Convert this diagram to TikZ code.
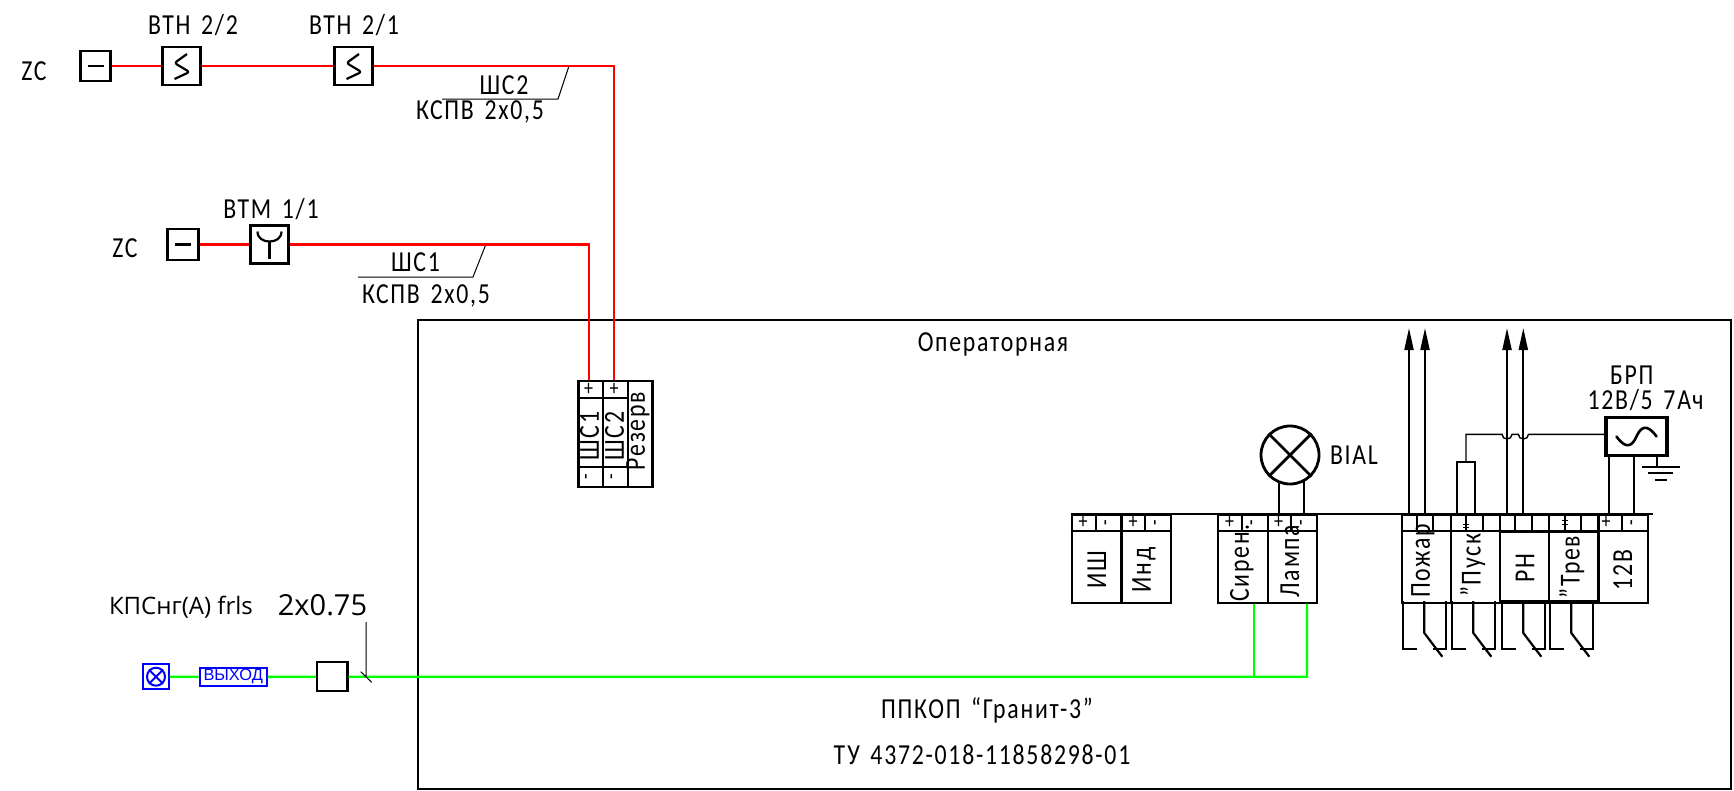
\documentclass[tikz,border=0pt]{standalone}
\usepackage{fontspec}
\setmainfont[LetterSpace=6,FakeStretch=0.82,WordSpace=1.5]{Carlito}
\newfontfamily\osans{Open Sans}
\newfontfamily\lsans{Liberation Sans}
\usetikzlibrary{arrows.meta,calc}
\definecolor{wgreen}{RGB}{0,255,0}
\definecolor{wblue}{RGB}{0,0,255}
\tikzset{
  txt/.style={inner sep=0pt,font=\fontsize{#1}{#1}\selectfont},
  txt/.default=29,
  box/.style={draw,line width=2.4pt,inner sep=0pt,minimum width=#1,minimum height=#1},
  cell/.style={draw,line width=2.2pt,inner sep=0pt,anchor=north west},
  thinl/.style={line width=1pt},
  wire/.style={line width=2.2pt},
  redw/.style={draw=red,line width=2.4pt},
  greenw/.style={draw=wgreen,line width=2.4pt},
  bluel/.style={draw=wblue,line width=2pt},
  arr/.style={line width=2pt,-{Triangle[length=22pt,width=9pt]}},
}
\newcommand{\contact}[1]{%
  \begin{scope}[shift={(#1,0)}]
    \draw[wire] (1403.3,601)--(1403.3,649)--(1416.7,649);
    \draw[wire] (1424.3,601)--(1424.3,633)--(1442.3,656.7);
    \draw[wire] (1446,601)--(1446,649)--(1433.3,649);
  \end{scope}}
\begin{document}
\begin{tikzpicture}[x=1pt,y=-1pt]
\useasboundingbox (0,0) rectangle (1734,790);
% room
\draw[wire] (418,320) rectangle (1731,789);
\node[txt] (room) at (993,344) {Операторная};
\node[txt] (ppk) at (987,710) {ППКОП “Гранит-3”};
\node[txt] (tu) at (982,755) {ТУ 4372-018-11858298-01};
% top loop
\node[txt] (zc1t) at (34,71) {ZC};
\node[box=30pt] (zc1) at (95.5,66) {};
\draw[wire] ($(zc1)+(-8,0)$)--($(zc1)+(8,0)$);
\node[box=38pt] (s2) at (181.5,66) {};
\node[box=38pt] (s1) at (353.5,66) {};
\foreach \n in {s1,s2}{\draw[wire,line join=round,rounded corners=2.5pt] ($(\n)+(5.5,-12)$)--($(\n)+(-7,-3)$)--($(\n)+(8,6)$)--($(\n)+(-7,13)$);}
\node[txt] (s2t) at (193,25) {ВТН 2/2};
\node[txt] (s1t) at (354,25) {ВТН 2/1};
\node[txt] (w2a) at (504,85) {ШС2};
\node[txt] (w2b) at (480,112) {КСПВ 2х0,5};
\coordinate (l2a) at (569,66); \coordinate (l2b) at (558,99); \coordinate (l2c) at (442,99);
\draw[thinl] (l2a)--(l2b)--(l2c);
% second loop
\node[txt] (zc2t) at (125,248) {ZC};
\node[box=31pt] (zc2) at (183,244.5) {};
\draw[wire] ($(zc2)+(-8,0)$)--($(zc2)+(8,0)$);
\node[box=38pt] (y1) at (269.5,244.5) {};
\draw[wire] ($(y1)+(-12,-13)$) .. controls ($(y1)+(-12,-6)$) and ($(y1)+(-6,-3)$) .. ($(y1)+(0,-3)$) .. controls ($(y1)+(6,-3)$) and ($(y1)+(12,-6)$) .. ($(y1)+(12,-13)$);
\draw[wire] ($(y1)+(0,-3)$)--($(y1)+(0,14)$);
\node[txt] (y1t) at (271,209) {ВТМ 1/1};
\node[txt] (w1a) at (415.5,262) {ШС1};
\node[txt] (w1b) at (426,296) {КСПВ 2х0,5};
\coordinate (l1a) at (486,244); \coordinate (l1b) at (473,277); \coordinate (l1c) at (358,277);
\draw[thinl] (l1a)--(l1b)--(l1c);
% terminal block ШС
\node[cell,minimum width=24.7pt,minimum height=106pt] (b1) at (577.3,380) {};
\node[cell,minimum width=24.7pt,minimum height=106pt] (b2) at (602,380) {};
\node[cell,minimum width=24.7pt,minimum height=106pt] (b3) at (626.7,380) {};
\draw[wire] (577.3,398)--(626.7,398) (577.3,467)--(626.7,467);
\node[txt=22] (p1) at (588.5,389) {+};
\node[txt=22] (p2) at (614,389) {+};
\node[txt=22,rotate=90] (m1) at (588.5,477) {-};
\node[txt=22,rotate=90] (m2) at (614,477) {-};
\node[txt,rotate=90] (t1) at (589.5,436) {ШС1};
\node[txt,rotate=90] (t2) at (614.5,436) {ШС2};
\node[txt,rotate=90] (t3) at (638,431) {Резерв};
% red wires
\coordinate (c2) at (614,66); \coordinate (c1) at (588.7,244.5);
\draw[redw] (zc1.east)--(s2.west) (s2.east)--(s1.west) (s1.east)--(c2)--(c2 |- b2.north);
\draw[redw] (zc2.east)--(y1.west) (y1.east)--(c1)--(c1 |- b1.north);
% bus
\coordinate (busl) at (1070.7,514); \coordinate (busr) at (1653,514);
\draw[wire] (busl)--(busr);
\foreach \n/\x/\w in {ish/1070.7/49.6,ind/1120.3/49.4,sir/1217/49.7,lam/1266.7/49.3,poz/1400.7/49.3,pus/1450/49,rn/1499/49,tre/1548/49.3,vv/1597.3/49.4}{
  \node[cell,minimum width=\w pt,minimum height=87.5pt] (\n) at (\x,514) {};
  \draw[wire] (\x,531)--++(\w,0);
}
\foreach \x in {1095.7,1145,1241.7,1291,1416.7,1433.3,1466,1482.7,1515.3,1531.7,1565,1581.3,1622}{\draw[wire] (\x,514)--(\x,531);}
\draw[line width=3.2pt] (1499,531.5)--(1597.3,531.5) (1499,601.5)--(1597.3,601.5);
\foreach \n/\x/\s in {q1/1083/+,q3/1133/+,q5/1229.5/+,q7/1278.5/+,q9/1606/+}{\node[txt=22] (\n) at (\x,522.5) {\s};}
\foreach \n/\x/\s in {q2/1108/-,q4/1157.5/-,q6/1254/-,q8/1303.5/-,q10/1634/-}{\node[txt=22,rotate=90] (\n) at (\x,522.5) {\s};}
\draw[thinl] (1466,521)--(1466,530) (1463,524)--(1469,524) (1463,527)--(1469,527);
\draw[thinl] (1565,517)--(1565,528) (1562,520)--(1568,520) (1562,524)--(1568,524);
\node[txt,rotate=90] (ti1) at (1096.7,570) {ИШ};
\node[txt,rotate=90] (ti2) at (1144,570) {Инд};
\node[txt,rotate=90] (ti3) at (1241.7,563) {Сирен.};
\node[txt,rotate=90] (ti4) at (1290,561) {Лампа};
\node[txt,rotate=90] (ti5) at (1423,561) {Пожар};
\node[txt,rotate=90] (ti6) at (1472.7,565) {"Пуск};
\node[txt,rotate=90] (ti7) at (1525,568) {РН};
\node[txt,rotate=90] (ti8) at (1571.7,567) {"Трев};
\node[txt,rotate=90] (ti9) at (1622.7,570) {12В};
% lamp
\node[circle,draw,line width=2.8pt,minimum size=58pt,inner sep=0pt] (lamp) at (1290,455) {};
\draw[line width=2.8pt] (lamp.north east)--(lamp.south west) (lamp.north west)--(lamp.south east);
\node[txt] (biat) at (1354,455) {BIAL};
\coordinate (la) at (1279,514); \coordinate (lb) at (1303.7,514);
\draw[wire] ($(la |- lamp.center)+(0,26.5)$)--(la) ($(lb |- lamp.center)+(0,25.5)$)--(lb);
% arrows
\coordinate (a1) at (1409,328); \coordinate (a2) at (1425,328); \coordinate (a3) at (1507,328); \coordinate (a4) at (1523.3,328);
\foreach \c in {a1,a2,a3,a4}{\draw[arr] (\c |- busl)--(\c);}
% PSU
\node[box=38pt,minimum width=61pt,line width=3.6pt] (brp) at (1636.5,436.5) {};
\draw[line width=2.6pt,line cap=round] ($(brp)+(-20,0)$) .. controls ($(brp)+(-10,14)$) and ($(brp)+(-4,9)$) .. (brp.center) .. controls ($(brp)+(4,-9)$) and ($(brp)+(10,-14)$) .. ($(brp)+(20,0)$);
\node[txt] (brpa) at (1631.7,375) {БРП};
\node[txt] (brpb) at (1645.5,400) {12В/5 7Ач};
\coordinate (pa) at (1609,514); \coordinate (pb) at (1633.7,514);
\draw[wire] (pa |- brp.south)--(pa) (pb |- brp.south)--(pb);
\coordinate (gr) at (1657,466.7);
\draw[wire] (gr |- brp.south)--(gr);
\draw[wire] (1641.7,466.7)--(1680,466.7) (1648,472.7)--(1673,472.7) (1655,480)--(1667,480);
% resistor-like box
\node[draw,line width=1.8pt,minimum width=18pt,minimum height=52.3pt,inner sep=0pt] (pk) at (1466,487.8) {};
\coordinate (hop) at (1466,434.3);
\draw[line width=1.4pt] (pk.north)--(hop)--(1502,434.3) .. controls (1502,440.5) and (1512,440.5) .. (1512,434.3) -- (1518.3,434.3) .. controls (1518.3,440.5) and (1528.5,440.5) .. (1528.5,434.3) -- (brp.west |- hop);
% contacts
\contact{0}\contact{49}\contact{99}\contact{147}
% green line
\node[draw=wblue,line width=2pt,minimum size=25.5pt,inner sep=0pt] (bb) at (156,676.7) {};
\node[circle,draw=wblue,line width=2pt,minimum size=18pt,inner sep=0pt] (bc) at (156,676.7) {};
\draw[bluel] (bc.north east)--(bc.south west) (bc.north west)--(bc.south east);
\node[draw=wblue,line width=2pt,text=wblue,inner sep=0pt,minimum width=67pt,minimum height=18.3pt,font=\lsans\fontsize{16.4}{16.4}\selectfont] (out) at (233.2,676.8) {ВЫХОД};
\node[box=29pt,minimum width=30.3pt] (jb) at (332.2,676.7) {};
\coordinate (g2) at (1307,676.7); \coordinate (g1) at (1253.7,676.7);
\draw[greenw] (bb.east)--(out.west) (out.east)--(jb.west) (jb.east)--(g2)--(g2 |- lam.south);
\draw[greenw] (g1)--(g1 |- sir.south);
\node[inner sep=0pt,font=\osans\fontsize{24}{24}\selectfont] (cab) at (181,607) {КПСнг(А) frls};
\node[inner sep=0pt,font=\osans\fontsize{29}{29}\selectfont] (cabn) at (322.5,605) {2x0.75};
\coordinate (cl) at (366,622); \coordinate (cm) at (366,677);
\draw[thinl] (cl)--(cm) (360.7,671.7)--(371.7,682.3);
\end{tikzpicture}
\end{document}
